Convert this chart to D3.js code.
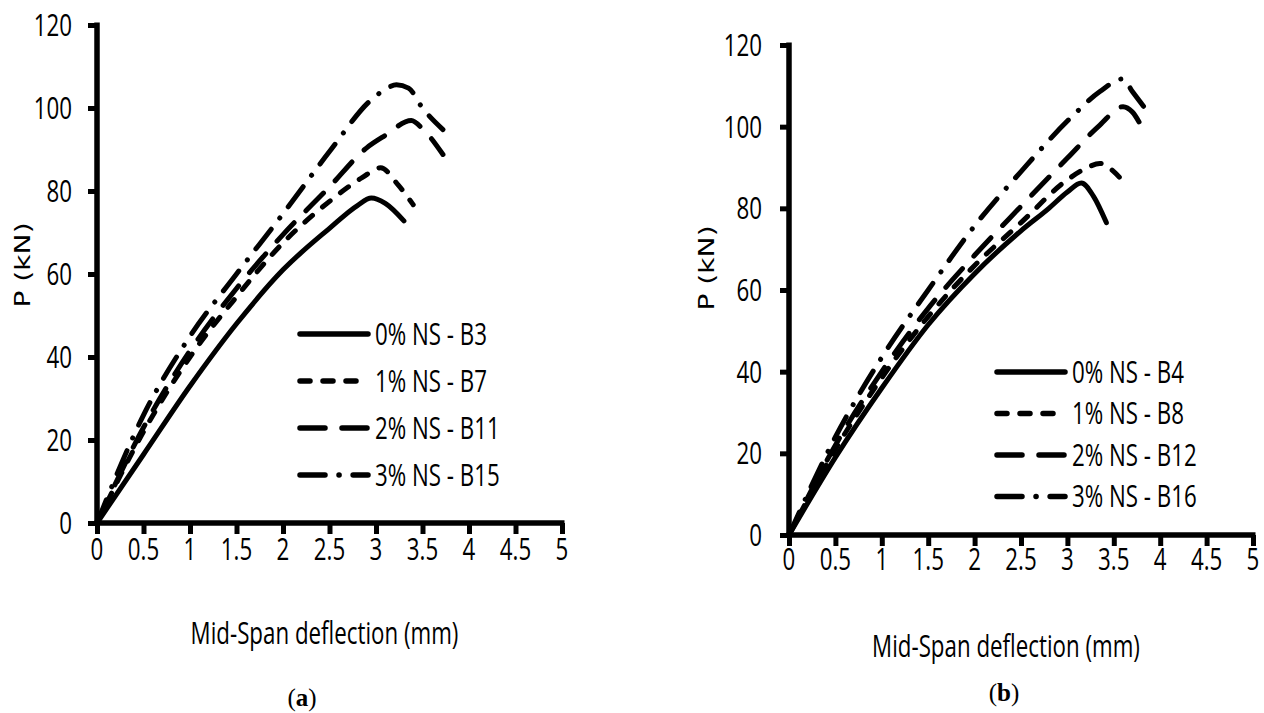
<!DOCTYPE html>
<html><head><meta charset="utf-8">
<script src="https://cdn.jsdelivr.net/npm/d3@7/dist/d3.min.js"></script>
<style>html,body{margin:0;padding:0;background:#fff;}svg{display:block;}</style>
</head><body>
<svg id="chart" width="1264" height="713"></svg>
<script>
// ---------- data ----------
const xTicks = [0, 0.5, 1, 1.5, 2, 2.5, 3, 3.5, 4, 4.5, 5];
const yTicks = [0, 20, 40, 60, 80, 100, 120];
const xTickLabels = ["0", "0.5", "1", "1.5", "2", "2.5", "3", "3.5", "4", "4.5", "5"];
const xTitle = "Mid-Span deflection (mm)";
const yTitle = "P (kN)";

// panel (a)
const aNames = ["0% NS - B3", "1% NS - B7", "2% NS - B11", "3% NS - B15"];
const b3X  = [0, 0.5, 1, 1.5, 2, 2.5, 2.8, 2.95, 3.1, 3.3];
const b3Y  = [0, 16.5, 33, 48, 61, 71, 76.5, 78.3, 77, 72.8];
const b7X  = [0, 0.5, 1, 1.5, 2, 2.5, 2.85, 3.05, 3.24, 3.4];
const b7Y  = [0, 22, 40, 54.5, 67.5, 77.5, 83.2, 85.6, 81.4, 76.7];
const b11X = [0, 0.5, 1, 1.5, 2, 2.5, 2.9, 3.1, 3.38, 3.5, 3.72];
const b11Y = [0, 23, 41.5, 56.5, 69.5, 81, 90.4, 93.4, 97, 95, 88.8];
const b15X = [0, 0.5, 1, 1.5, 2, 2.5, 2.95, 3.1, 3.22, 3.35, 3.5, 3.72];
const b15Y = [0, 26, 45, 60, 74.5, 89.5, 102, 104.5, 105.6, 104.8, 100, 94.8];

// panel (b)
const bNames = ["0% NS - B4", "1% NS - B8", "2% NS - B12", "3% NS - B16"];
const b4X  = [0, 0.5, 1, 1.5, 2, 2.5, 2.8, 3.0, 3.15, 3.28, 3.42];
const b4Y  = [0, 19, 36, 51.5, 64, 74.5, 80, 84, 86.2, 83, 76.5];
const b8X  = [0, 0.5, 1, 1.5, 2, 2.5, 3, 3.2, 3.35, 3.5, 3.63];
const b8Y  = [0, 21, 38.5, 53.5, 66, 76.5, 87, 89.8, 91, 89, 85.7];
const b12X = [0, 0.5, 1, 1.5, 2, 2.5, 3, 3.35, 3.6, 3.7, 3.8];
const b12Y = [0, 22, 40, 55.5, 68.5, 80.5, 92.3, 100.4, 104.9, 103.6, 100];
const b16X = [0, 0.5, 1, 1.5, 2, 2.5, 3.05, 3.35, 3.6, 3.7, 3.82];
const b16Y = [0, 24, 43.5, 60, 75.7, 89, 102.5, 108.6, 111.7, 108.6, 105];

// ---------- styles ----------
const dashes = [null, "10,13", "25,17", "25,14,0.1,14"];
const LABEL_FONT = "'Open Sans', 'Noto Sans', sans-serif";
const LABEL_SIZE = 31;
const LABEL_SX = 0.72;

const svg = d3.select("#chart");

function scaledText(g, x, y, str, anchor, size, sx) {
  return g.append("text")
    .attr("transform", `translate(${x},${y}) scale(${sx},1)`)
    .attr("text-anchor", anchor)
    .attr("dy", "0.35em")
    .attr("font-family", LABEL_FONT)
    .attr("font-size", size)
    .attr("fill", "#000")
    .text(str);
}

function zip(xs, ys) { return xs.map((x, i) => ({x: x, y: ys[i]})); }

function panel(cfg) {
  const x = d3.scaleLinear().domain([0, 5]).range([cfg.x0, cfg.x1]);
  const y = d3.scaleLinear().domain([0, 120]).range([cfg.y0, cfg.y1]);
  const g = svg.append("g");

  // curves
  const line = d3.line().x(d => x(d.x)).y(d => y(d.y)).curve(d3.curveMonotoneX);
  cfg.series.forEach((s, i) => {
    g.append("path")
      .attr("d", line(zip(s[0], s[1])))
      .style("fill", "none")
      .style("stroke", "#000")
      .style("stroke-width", "5px")
      .style("stroke-linecap", "round")
      .style("stroke-linejoin", "round")
      .style("stroke-dasharray", dashes[i]);
  });

  // axes
  const xAxis = d3.axisBottom(x).tickValues(xTicks).tickSize(11).tickSizeOuter(0).tickFormat(() => "");
  const yAxis = d3.axisLeft(y).tickValues(yTicks).tickSize(9).tickSizeOuter(0).tickFormat(() => "");
  const gx = g.append("g").attr("transform", `translate(0,${cfg.y0})`).call(xAxis);
  const gy = g.append("g").attr("transform", `translate(${cfg.x0},0)`).call(yAxis);
  [gx, gy].forEach(a => {
    a.select(".domain").style("stroke", "#000").style("stroke-width", "5.5px");
    a.selectAll(".tick line").style("stroke", "#000").style("stroke-width", "5px");
  });
  gx.select(".domain").attr("d", `M${cfg.x0 - 2.5},0H${cfg.x1 + 2.5}`);
  gy.select(".domain").attr("d", `M0,${cfg.y1 - 2.5}V${cfg.y0 + 2.5}`);

  // tick labels
  xTicks.forEach((t, i) => scaledText(g, x(t), cfg.y0 + cfg.xLabOff, xTickLabels[i], "middle", LABEL_SIZE, LABEL_SX));
  yTicks.forEach(t => scaledText(g, cfg.x0 - cfg.yLabOff, y(t), String(t), "end", LABEL_SIZE, LABEL_SX));

  // axis titles
  scaledText(g, (cfg.x0 + cfg.x1) / 2 + cfg.titleDx, cfg.y0 + cfg.titleOff, xTitle, "middle", LABEL_SIZE, LABEL_SX);
  g.append("text")
    .attr("transform", `translate(${cfg.yTitleX},${cfg.yTitleY}) rotate(-90) scale(1.28,1)`)
    .attr("text-anchor", "middle")
    .attr("dy", "0.35em")
    .attr("font-family", "'DejaVu Sans', Verdana, sans-serif")
    .attr("font-size", 22)
    .attr("fill", "#000")
    .text(yTitle);

  // legend
  cfg.names.forEach((n, i) => {
    const ly = cfg.legY + i * cfg.legStep;
    g.append("line")
      .attr("x1", cfg.legX).attr("x2", cfg.legX + 68)
      .attr("y1", ly).attr("y2", ly)
      .style("stroke", "#000").style("stroke-width", "5.5px")
      .style("stroke-linecap", "round")
      .style("stroke-dasharray", dashes[i]);
    scaledText(g, cfg.legX + 75, ly, n, "start", LABEL_SIZE, LABEL_SX);
  });

  // caption
  const cap = g.append("text")
    .attr("x", cfg.capX).attr("y", cfg.capY)
    .attr("text-anchor", "middle")
    .attr("dy", "0.35em")
    .attr("font-family", "'Liberation Serif', 'DejaVu Serif', serif")
    .attr("font-size", 25)
    .attr("fill", "#000");
  cap.append("tspan").text("(");
  cap.append("tspan").attr("font-weight", "bold").text(cfg.cap);
  cap.append("tspan").text(")");
}

panel({
  x0: 97, x1: 562, y0: 523, y1: 25,
  series: [[b3X, b3Y], [b7X, b7Y], [b11X, b11Y], [b15X, b15Y]],
  names: aNames,
  xLabOff: 26, yLabOff: 25, titleOff: 110, titleDx: -5,
  yTitleX: 22, yTitleY: 265,
  legX: 300, legY: 334, legStep: 47,
  cap: "a", capX: 302, capY: 697
});

panel({
  x0: 789, x1: 1253, y0: 535, y1: 45,
  series: [[b4X, b4Y], [b8X, b8Y], [b12X, b12Y], [b16X, b16Y]],
  names: bNames,
  xLabOff: 24, yLabOff: 27, titleOff: 111, titleDx: -15,
  yTitleX: 706, yTitleY: 268,
  legX: 997, legY: 372, legStep: 41.5,
  cap: "b", capX: 1004, capY: 692
});
</script>
</body></html>
